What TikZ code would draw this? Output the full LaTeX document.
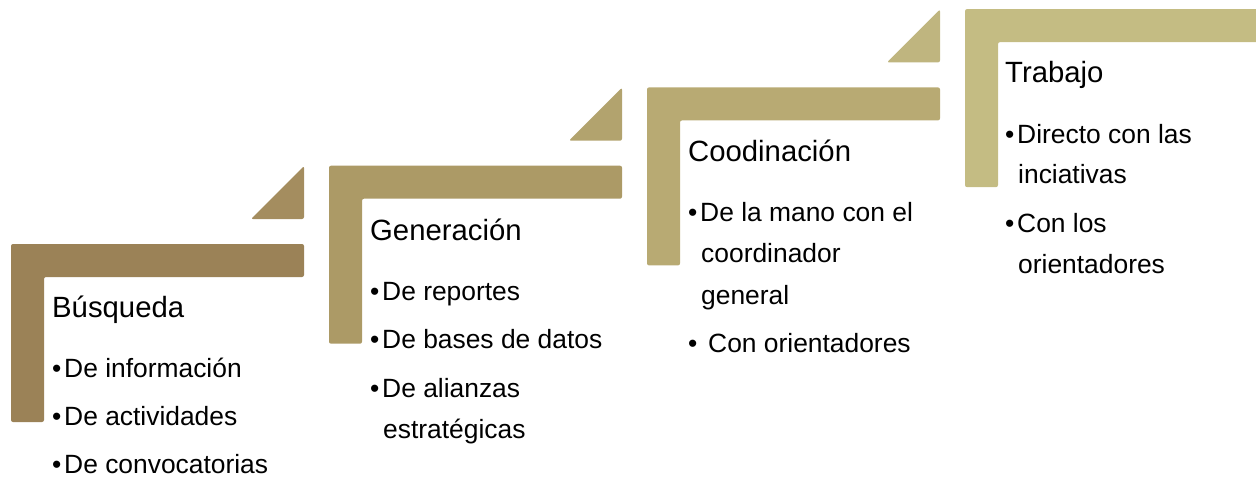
\documentclass[tikz,border=0pt]{standalone}
\usepackage{fontspec}
\setmainfont{Liberation Sans}
\definecolor{sA}{HTML}{9B8257}
\definecolor{tA}{HTML}{A48D5F}
\definecolor{sB}{HTML}{AC9A66}
\definecolor{tB}{HTML}{B2A36E}
\definecolor{sC}{HTML}{B8AA73}
\definecolor{tC}{HTML}{BFB57F}
\definecolor{sD}{HTML}{C4BC83}
\begin{document}
\begin{tikzpicture}[x=1pt,y=-1pt,
  title/.style={anchor=base west,inner sep=0pt,font=\fontsize{29.3}{31}\selectfont},
  item/.style={anchor=base west,inner sep=0pt,font=\fontsize{26.4}{28}\selectfont},
  dot/.style={anchor=base west,inner sep=0pt,font=\fontsize{26.4}{28}\selectfont}]
\useasboundingbox (0,0) rectangle (1256,480);
% step shapes
\foreach \k/\cl/\ct in {0/sA/tA, 1/sB/tB, 2/sC/tC, 3/sD/sD}{
  \begin{scope}[xshift=318*\k pt, yshift=78.3*\k pt]
    \fill[rounded corners=2pt, \cl]
      (11,244) -- (304,244) -- (304,277) -- (44,277) -- (44,422) -- (11,422) -- cycle;
    \ifnum\k<3
    \fill[rounded corners=2pt, \ct]
      (251,219) -- (304,219) -- (304,166) -- cycle;
    \fi
  \end{scope}
}
% step 1
\node[title] (t1) at (52,317) {Búsqueda};
\node[dot] (b11) at (52,377) {•};
\node[item] (i11) at (64,377) {De información};
\node[dot] (b12) at (52,425) {•};
\node[item] (i12) at (64,425) {De actividades};
\node[dot] (b13) at (52,473) {•};
\node[item] (i13) at (64,473) {De convocatorias};
% step 2
\node[title] (t2) at (370,240) {Generación};
\node[dot] (b21) at (370,300) {•};
\node[item] (i21) at (382,300) {De reportes};
\node[dot] (b22) at (370,348) {•};
\node[item] (i22) at (382,348) {De bases de datos};
\node[dot] (b23) at (370,397) {•};
\node[item] (i23) at (382,397) {De alianzas};
\node[item] (i24) at (383,438) {estratégicas};
% step 3
\node[title] (t3) at (688,161) {Coodinación};
\node[dot] (b31) at (688,221) {•};
\node[item] (i31) at (700,221) {De la mano con el};
\node[item] (i32) at (701,262) {coordinador};
\node[item] (i33) at (701,304) {general};
\node[dot] (b34) at (688,352) {•};
\node[item] (i34) at (708,352) {Con orientadores};
% step 4
\node[title] (t4) at (1005,82) {Trabajo};
\node[dot] (b41) at (1005,143) {•};
\node[item] (i41) at (1017,143) {Directo con las};
\node[item] (i42) at (1018,183) {inciativas};
\node[dot] (b43) at (1005,232) {•};
\node[item] (i43) at (1017,232) {Con los};
\node[item] (i44) at (1018,273) {orientadores};
\end{tikzpicture}
\end{document}
